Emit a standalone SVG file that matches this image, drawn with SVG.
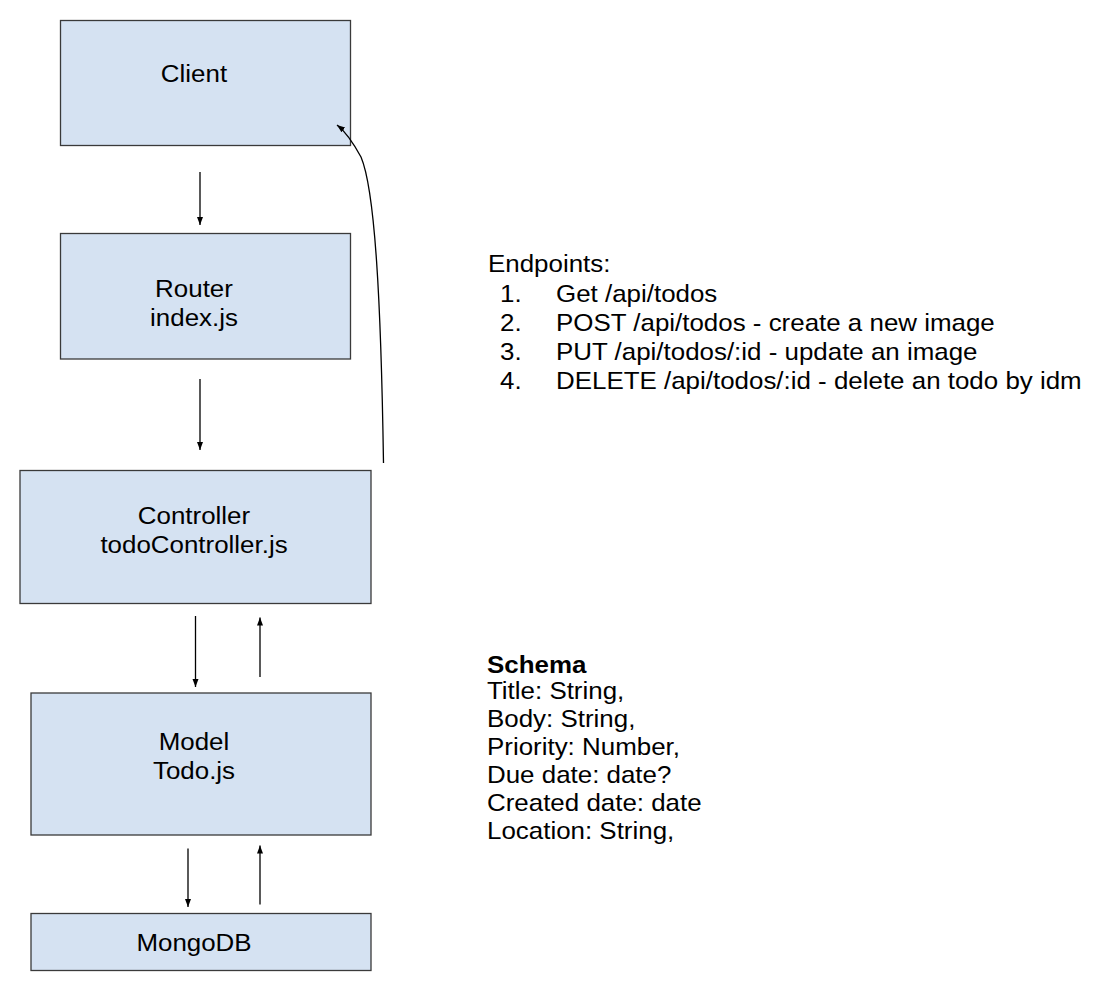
<svg xmlns="http://www.w3.org/2000/svg" width="1110" height="989" viewBox="0 0 1110 989">
<style>
.box{fill:#d5e2f2;stroke:#3a3a3a;stroke-width:1.3}
.t{font-family:"Liberation Sans",Arial,sans-serif;font-size:24px;fill:#000}
.c{text-anchor:middle}
.b{font-weight:bold}
.ln{fill:none;stroke:#000;stroke-width:1.3}
</style>
<defs>
<marker id="ah" markerUnits="userSpaceOnUse" markerWidth="10" markerHeight="8" refX="8" refY="3" orient="auto">
<path d="M0,0 L8,3 L0,6 z" fill="#000"/>
</marker>
</defs>
<rect width="1110" height="989" fill="#fff"/>
<g id="client">
<rect class="box" x="60.5" y="20.5" width="290" height="125"/>
<text class="t c" transform="translate(194,82) scale(1.08,1)">Client</text>
</g>
<g id="router">
<rect class="box" x="60.5" y="233.5" width="290" height="125.5"/>
<text class="t c" transform="translate(194,297) scale(1.08,1)">Router</text>
<text class="t c" transform="translate(194,325.5) scale(1.08,1)">index.js</text>
</g>
<g id="controller">
<rect class="box" x="20" y="470.5" width="351" height="133"/>
<text class="t c" transform="translate(194,523.5) scale(1.08,1)">Controller</text>
<text class="t c" transform="translate(194,552.5) scale(1.08,1)">todoController.js</text>
</g>
<g id="model">
<rect class="box" x="31" y="693" width="340" height="142"/>
<text class="t c" transform="translate(194,749.5) scale(1.08,1)">Model</text>
<text class="t c" transform="translate(194,779) scale(1.08,1)">Todo.js</text>
</g>
<g id="mongodb">
<rect class="box" x="31" y="913.5" width="340" height="57"/>
<text class="t c" transform="translate(194,951) scale(1.08,1)">MongoDB</text>
</g>
<g id="connectors">
<line class="ln" x1="200" y1="172" x2="200" y2="225" marker-end="url(#ah)"/>
<line class="ln" x1="200" y1="379" x2="200" y2="450" marker-end="url(#ah)"/>
<line class="ln" x1="195.5" y1="616" x2="195.5" y2="687" marker-end="url(#ah)"/>
<line class="ln" x1="260" y1="677" x2="260" y2="617.5" marker-end="url(#ah)"/>
<line class="ln" x1="188" y1="848.5" x2="188" y2="907" marker-end="url(#ah)"/>
<line class="ln" x1="260" y1="904.5" x2="260" y2="845.5" marker-end="url(#ah)"/>
<path class="ln" d="M383.5,463 C381,300 375,190 361,157 C355,146 346,132 337,125" marker-end="url(#ah)"/>
</g>
<g id="endpoints">
<text class="t" transform="translate(488,272) scale(1.08,1)">Endpoints:</text>
<text class="t" transform="translate(500,301.5) scale(1.08,1)">1.</text>
<text class="t" transform="translate(556,301.5) scale(1.08,1)">Get /api/todos</text>
<text class="t" transform="translate(500,330.5) scale(1.08,1)">2.</text>
<text class="t" transform="translate(556,330.5) scale(1.08,1)">POST /api/todos - create a new image</text>
<text class="t" transform="translate(500,359.5) scale(1.08,1)">3.</text>
<text class="t" transform="translate(556,359.5) scale(1.08,1)">PUT /api/todos/:id - update an image</text>
<text class="t" transform="translate(500,389) scale(1.08,1)">4.</text>
<text class="t" transform="translate(556,389) scale(1.08,1)">DELETE /api/todos/:id - delete an todo by idm</text>
</g>
<g id="schema">
<text class="t b" transform="translate(487,672.5) scale(1.08,1)">Schema</text>
<text class="t" transform="translate(487,699) scale(1.08,1)">Title: String,</text>
<text class="t" transform="translate(487,727) scale(1.08,1)">Body: String,</text>
<text class="t" transform="translate(487,755) scale(1.08,1)">Priority: Number,</text>
<text class="t" transform="translate(487,783) scale(1.08,1)">Due date: date?</text>
<text class="t" transform="translate(487,811) scale(1.08,1)">Created date: date</text>
<text class="t" transform="translate(487,839) scale(1.08,1)">Location: String,</text>
</g>
</svg>
